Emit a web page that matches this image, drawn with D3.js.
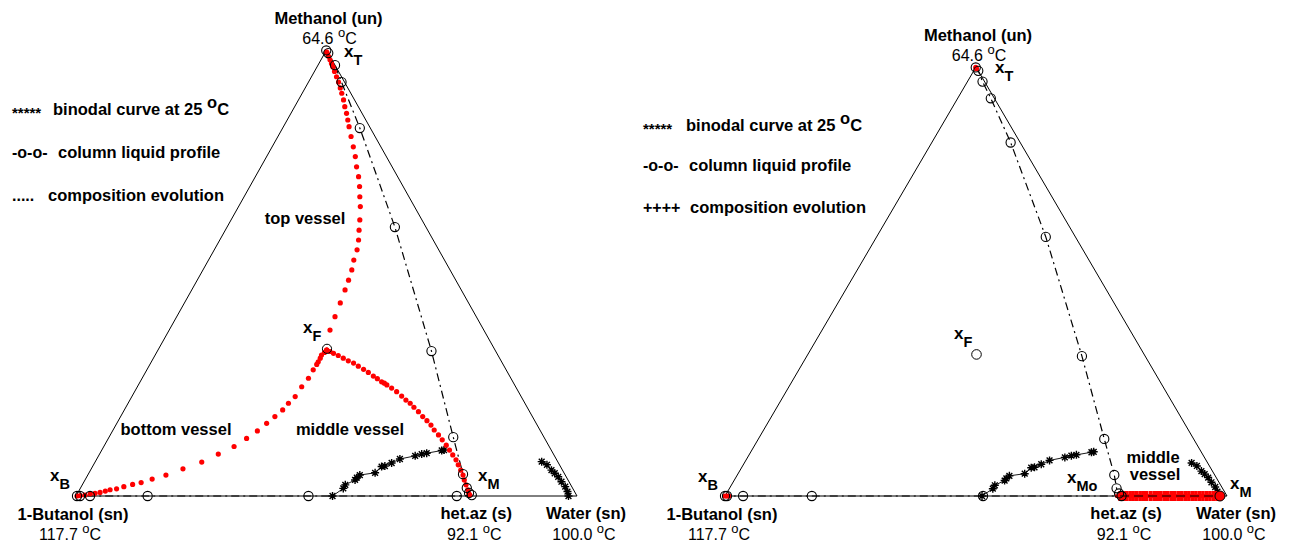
<!DOCTYPE html>
<html>
<head>
<meta charset="utf-8">
<script src="https://cdn.jsdelivr.net/npm/d3@7"></script>
<style>
  body { margin: 0; background: #fff; }
  text { font-family: "Liberation Sans", Arial, sans-serif; fill: #000; }
</style>
</head>
<body>
<svg id="chart" width="1289" height="544"></svg>
<script>
// every composition is [x_water, x_methanol]; 1-butanol is the rest

// binodal curve at 25 C (organic and aqueous branches)
var binodalOrganic = [[0.512,0],[0.525,0.017],[0.525,0.025],[0.539,0.036],[0.540,0.041],[0.543,0.047],
  [0.571,0.052],[0.577,0.066],[0.583,0.067],[0.593,0.074],[0.605,0.083],[0.632,0.090],[0.643,0.094],
  [0.652,0.096],[0.679,0.102],[0.683,0.103]];
var binodalAqueous = [[0.891,0.077],[0.905,0.070],[0.920,0.058],[0.930,0.051],[0.941,0.043],
  [0.953,0.032],[0.966,0.021],[0.976,0.010],[0.983,0]];

// vertices and singular points
var vertexNames = ["1-Butanol (sn)", "het.az (s)", "Water (sn)", "Methanol (un)"];
var vertexTemps = ["117.7", "92.1", "100.0", "64.6"];
var vertexComp = [[0,0],[0.785,0],[1,0],[0,1]];
var feed = [0.336, 0.330];

// left chart: column liquid profile
var profileLeft = [[0,0.999],[0.007,0.993],[0.034,0.966],[0.066,0.928],[0.154,0.825],[0.335,0.603],
  [0.547,0.325],[0.687,0.132],[0.748,0.049],[0.771,0.018],[0.781,0.007],[0.789,0.002],[0.760,0],
  [0.464,0],[0.143,0],[0.028,0],[0.008,0],[0.002,0]];

// left chart: composition evolution of the three vessels
var topVessel = [[0.337,0.327],[0.321,0.372],[0.316,0.402],[0.311,0.433],[0.306,0.462],[0.302,0.484],
  [0.297,0.507],[0.290,0.529],[0.285,0.552],[0.277,0.574],[0.267,0.596],[0.257,0.619],[0.243,0.649],
  [0.231,0.671],[0.219,0.694],[0.206,0.716],[0.191,0.738],[0.177,0.761],[0.162,0.783],[0.146,0.806],
  [0.131,0.828],[0.121,0.843],[0.111,0.858],[0.100,0.873],[0.090,0.888],[0.079,0.903],[0.070,0.915],
  [0.060,0.928],[0.050,0.940],[0.040,0.952],[0.032,0.962],[0.025,0.970],[0.018,0.978],[0.011,0.986],
  [0.005,0.993],[0.002,0.996]];
var middleVessel = [[0.337,0.327],[0.345,0.324],[0.354,0.320],[0.366,0.315],[0.379,0.309],[0.392,0.303],
  [0.405,0.298],[0.418,0.291],[0.432,0.284],[0.445,0.277],[0.459,0.269],[0.470,0.263],[0.482,0.256],
  [0.489,0.253],[0.496,0.249],[0.509,0.242],[0.523,0.234],[0.538,0.224],[0.551,0.215],[0.563,0.208],
  [0.575,0.199],[0.589,0.189],[0.603,0.178],[0.616,0.169],[0.629,0.159],[0.641,0.148],[0.655,0.137],
  [0.668,0.126],[0.682,0.114],[0.694,0.103],[0.706,0.092],[0.718,0.081],[0.728,0.070],[0.739,0.058],
  [0.749,0.047],[0.757,0.036],[0.766,0.025],[0.775,0.014],[0.781,0.006],[0.785,0.002]];
var bottomVessel = [[0.337,0.327],[0.335,0.322],[0.332,0.316],[0.333,0.309],[0.333,0.301],[0.333,0.295],
  [0.332,0.283],[0.332,0.264],[0.328,0.245],[0.326,0.223],[0.320,0.208],[0.316,0.193],[0.308,0.178],
  [0.299,0.163],[0.289,0.146],[0.276,0.129],[0.260,0.111],[0.237,0.094],[0.213,0.076],[0.183,0.061],
  [0.156,0.047],[0.133,0.038],[0.115,0.030],[0.100,0.026],[0.085,0.021],[0.073,0.016],[0.061,0.014],
  [0.053,0.011],[0.044,0.008],[0.035,0.006],[0.026,0.005],[0.017,0.002],[0.008,0.001],[0.002,0]];

// right chart: column liquid profile
var profileRight = [[0,0.999],[0.009,0.991],[0.030,0.966],[0.066,0.927],[0.157,0.824],[0.337,0.604],
  [0.548,0.326],[0.689,0.133],[0.751,0.049],[0.771,0.018],[0.782,0.006],[0.790,0],[0.514,0],
  [0.173,0],[0.036,0],[0.004,0],[0,0]];
// right chart: middle vessel evolution along the water / het.az edge
var middleVesselRight = [0.787,0.793,0.800,0.807,0.813,0.820,0.827,0.834,0.840,0.848,0.855,0.861,
  0.868,0.875,0.882,0.889,0.896,0.903,0.910,0.917,0.924,0.931,0.938,0.945,0.952,0.959,0.966,0.973,
  0.980,0.986];
var endsRight = [[0,0],[0.004,0],[0.008,0],[0,0.999],[0.003,0.996]];

var legendLeft = [["*****", "binodal curve at 25", true], ["-o-o-", "column liquid profile", false],
  [".....", "composition evolution", false]];
var legendRight = [["*****", "binodal curve at 25", true], ["-o-o-", "column liquid profile", false],
  ["++++", "composition evolution", false]];

var svg = d3.select("#chart");

function degree(t, big, small) {
  t.append("tspan").attr("font-size", small).attr("dy", -7).text("o");
  t.append("tspan").attr("font-size", big).attr("dy", 7).text("C");
}

function tag(g, pos, main, sub) {
  var t = g.append("text").attr("x", pos[0]).attr("y", pos[1])
    .attr("font-size", 17).attr("font-weight", "bold");
  t.append("tspan").text(main);
  t.append("tspan").attr("dy", 8).attr("font-size", 14.5).text(sub);
}

function panel(cfg) {
  var x = d3.scaleLinear().domain([0, 1]).range([cfg.left, cfg.right]);
  var y = d3.scaleLinear().domain([0, 1]).range([cfg.base, cfg.top]);
  var px = function(d) { return x(d[0] + d[1] / 2); };
  var py = function(d) { return y(d[1]); };
  var line = d3.line().x(px).y(py);
  var g = svg.append("g");

  // triangle
  g.append("path").attr("d", line([[0,0],[1,0],[0,1],[0,0]]))
    .attr("fill", "none").attr("stroke", "#000").attr("stroke-width", 1);

  // column profile (dash-dot)
  g.append("path").attr("d", line(cfg.profile))
    .attr("fill", "none").attr("stroke", "#000").attr("stroke-width", 1.2)
    .attr("stroke-dasharray", "8,4,2,4");

  // binodal
  var star = "M-4,0H4M0,-4V4M-2.9,-2.9L2.9,2.9M-2.9,2.9L2.9,-2.9";
  [binodalOrganic, binodalAqueous].forEach(function(br) {
    g.append("path").attr("d", line(br)).attr("fill", "none")
      .attr("stroke", "#000").attr("stroke-width", 0.9);
    g.selectAll(null).data(br).enter().append("path")
      .attr("transform", function(d) { return "translate(" + px(d) + "," + py(d) + ")"; })
      .attr("d", star).attr("stroke", "#000").attr("stroke-width", 1.4).attr("fill", "none");
  });

  cfg.draw(g, px, py, line);

  // profile circles
  g.selectAll(null).data(cfg.profile).enter().append("circle")
    .attr("cx", px).attr("cy", py).attr("r", 4.6)
    .attr("fill", "none").attr("stroke", "#000").attr("stroke-width", 1.1);

  // vertex labels
  var offs = [[-3, 24, -6, 44], [7, 23, 5, 44], [9, 23, 7, 44], [2, -26, 3, -6]];
  vertexComp.forEach(function(v, i) {
    g.append("text").attr("x", px(v) + offs[i][0]).attr("y", py(v) + offs[i][1])
      .attr("text-anchor", "middle").attr("font-size", 16.5).attr("font-weight", "bold")
      .text(vertexNames[i]);
    var t = g.append("text").attr("x", px(v) + offs[i][2]).attr("y", py(v) + offs[i][3])
      .attr("text-anchor", "middle").attr("font-size", 16).attr("fill", "#222");
    t.append("tspan").text(vertexTemps[i] + " ");
    degree(t, 16, 13);
  });

  // legend
  cfg.legend.forEach(function(l, i) {
    var yy = cfg.legendY[i];
    g.append("text").attr("x", cfg.legendX).attr("y", yy + (i === 0 ? 3 : 0))
      .attr("font-size", i === 0 ? 15 : 16).attr("font-weight", "bold").text(l[0]);
    var t = g.append("text").attr("x", cfg.legendLabelX[i]).attr("y", yy)
      .attr("font-size", 16.5).attr("font-weight", "bold");
    t.append("tspan").text(l[1] + (l[2] ? " " : ""));
    if (l[2]) degree(t, 16.5, 16.5);
  });

  cfg.tags.forEach(function(tg) { tag(g, tg[0], "x", tg[1]); });
  cfg.notes.forEach(function(n) {
    g.append("text").attr("x", n[0][0]).attr("y", n[0][1]).attr("text-anchor", "middle")
      .attr("font-size", 16.5).attr("font-weight", "bold").text(n[1]);
  });
}

panel({
  left: 76, right: 577, base: 496, top: 50,
  profile: profileLeft,
  legend: legendLeft, legendX: 12, legendY: [115, 158, 201], legendLabelX: [53, 58, 48],
  tags: [[[344, 57], "T"], [[303, 333], "F"], [[50, 481], "B"], [[478, 481], "M"]],
  notes: [[[305, 224], "top vessel"], [[176, 435], "bottom vessel"], [[350, 435], "middle vessel"]],
  draw: function(g, px, py) {
    [topVessel, middleVessel, bottomVessel].forEach(function(s) {
      g.selectAll(null).data(s).enter().append("circle")
        .attr("cx", px).attr("cy", py).attr("r", 2.6).attr("fill", "#ff0000");
    });
    g.append("circle").attr("cx", px(feed)).attr("cy", py(feed)).attr("r", 4.6)
      .attr("fill", "none").attr("stroke", "#000");
  }
});

panel({
  left: 725, right: 1227, base: 496, top: 67,
  profile: profileRight,
  legend: legendRight, legendX: 643, legendY: [131, 171, 213], legendLabelX: [686, 689, 690],
  tags: [[[995, 73], "T"], [[954, 339], "F"], [[698, 482], "B"], [[1230, 489], "M"], [[1067, 483], "Mo"]],
  notes: [[[1153, 463], "middle"], [[1155, 480], "vessel"]],
  draw: function(g, px, py, line) {
    var pts = middleVesselRight.map(function(w) { return [w, 0]; });
    g.selectAll(null).data(pts).enter().append("path")
      .attr("transform", function(d) { return "translate(" + px(d) + "," + py(d) + ")"; })
      .attr("d", "M-5,0H5M0,-5V5").attr("stroke", "#ff0000").attr("stroke-width", 3.6);
    g.append("path").attr("d", line([pts[0], pts[pts.length - 1]]))
      .attr("stroke", "#000").attr("stroke-width", 1.1).attr("stroke-dasharray", "9,5");
    var last = pts[pts.length - 1];
    g.append("circle").attr("cx", px(last)).attr("cy", py(last)).attr("r", 5)
      .attr("fill", "#ff0000").attr("stroke", "#000");
    g.selectAll(null).data(endsRight).enter().append("circle")
      .attr("cx", px).attr("cy", py).attr("r", 2.6).attr("fill", "#ff0000");
    g.append("circle").attr("cx", px(feed)).attr("cy", py(feed)).attr("r", 4.8)
      .attr("fill", "none").attr("stroke", "#000");
  }
});
</script>
</body>
</html>
